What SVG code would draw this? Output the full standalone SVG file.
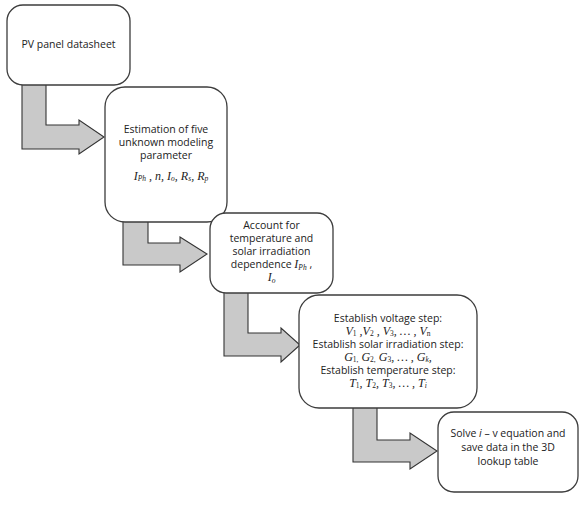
<svg xmlns="http://www.w3.org/2000/svg" width="584" height="505" viewBox="0 0 584 505">
<style>
.box{fill:#fff;stroke:#3c3c3c;stroke-width:1.3}
.arr{fill:#c9c9c9;stroke:#333;stroke-width:1.1;stroke-linejoin:miter}
.t{font-family:"Open Sans","Liberation Sans",sans-serif;font-size:10.5px;fill:#222;text-anchor:middle}
.m{font-family:"Liberation Serif",serif;font-style:italic;font-size:12px;fill:#222;text-anchor:middle}
.s{font-size:7.5px}
.u{font-style:normal}
</style>
<rect width="584" height="505" fill="#fff"/>
<g id="connectors">
<polygon class="arr" points="22,84 46,84 46,125 79,125 79,120 104,137 79,154 79,149 22,149"/>
<polygon class="arr" points="123,221 148,221 148,243 180,243 180,237 207,254 180,272 180,265 123,265"/>
<polygon class="arr" points="224,292 248,292 248,333 281,333 281,328 300,345 281,362 281,356 224,356"/>
<polygon class="arr" points="353,407 377,407 377,440 410,440 410,433 437,451 410,469 410,462 353,462"/>
</g>
<g id="node1">
<rect class="box" x="7" y="5" width="123" height="80" rx="16"/>
<text class="t" x="68.5" y="48">PV panel datasheet</text>
</g>
<g id="node2">
<rect class="box" x="105" y="87" width="122" height="135" rx="20"/>
<text class="t" x="166" y="133">Estimation of five</text>
<text class="t" x="166" y="146">unknown modeling</text>
<text class="t" x="166" y="159">parameter</text>
<text class="m" x="171" y="179.5">I<tspan class="s" dy="1.5">Ph</tspan><tspan dy="-1.5"> , n, I</tspan><tspan class="s" dy="1.5">o</tspan><tspan dy="-1.5">, R</tspan><tspan class="s" dy="1.5">s</tspan><tspan dy="-1.5">, R</tspan><tspan class="s" dy="1.5">p</tspan></text>
</g>
<g id="node3">
<rect class="box" x="210" y="213" width="123" height="80" rx="16"/>
<text class="t" x="271.5" y="229">Account for</text>
<text class="t" x="271.5" y="242">temperature and</text>
<text class="t" x="271.5" y="255">solar irradiation</text>
<text class="t" x="271.5" y="268">dependence <tspan class="m">I</tspan><tspan class="m s" dy="1.5">Ph</tspan><tspan dy="-1.5"> ,</tspan></text>
<text class="m" x="271.5" y="281">I<tspan class="s" dy="1.5">o</tspan></text>
</g>
<g id="node4">
<rect class="box" x="299" y="295" width="178" height="113" rx="20"/>
<text class="t" x="388" y="322">Establish voltage step:</text>
<text class="m" x="388" y="334.5">V<tspan class="s u" dy="1.5">1</tspan><tspan dy="-1.5"> ,V</tspan><tspan class="s u" dy="1.5">2</tspan><tspan dy="-1.5"> , V</tspan><tspan class="s u" dy="1.5">3</tspan><tspan dy="-1.5">, … , V</tspan><tspan class="s u" dy="1.5">n</tspan></text>
<text class="t" x="388" y="347.5">Establish solar irradiation step:</text>
<text class="m" x="388" y="360.5">G<tspan class="s u" dy="1.5">1,</tspan><tspan dy="-1.5"> G</tspan><tspan class="s u" dy="1.5">2,</tspan><tspan dy="-1.5">  G</tspan><tspan class="s u" dy="1.5">3</tspan><tspan dy="-1.5">, … , G</tspan><tspan class="s" dy="1.5">k</tspan><tspan dy="-1.5">,</tspan></text>
<text class="t" x="388" y="373.5">Establish temperature step:</text>
<text class="m" x="388" y="386.5">T<tspan class="s u" dy="1.5">1</tspan><tspan dy="-1.5">,  T</tspan><tspan class="s u" dy="1.5">2</tspan><tspan dy="-1.5">,  T</tspan><tspan class="s u" dy="1.5">3</tspan><tspan dy="-1.5">, … , T</tspan><tspan class="s" dy="1.5">i</tspan></text>
</g>
<g id="node5">
<rect class="box" x="438" y="412" width="140" height="80" rx="16"/>
<text class="t" x="508" y="437">Solve <tspan font-style="italic">i</tspan> – v equation and</text>
<text class="t" x="508" y="451">save data in the 3D</text>
<text class="t" x="508" y="465">lookup table</text>
</g>
</svg>
